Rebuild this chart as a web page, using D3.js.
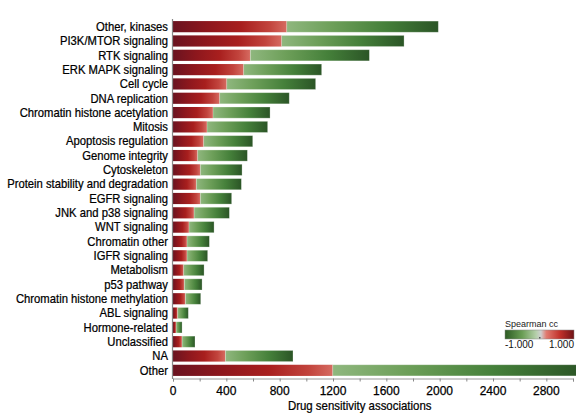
<!DOCTYPE html>
<html>
<head>
<meta charset="utf-8">
<script src="https://cdn.jsdelivr.net/npm/d3@7"></script>
<style>
  html, body { margin: 0; padding: 0; background: #fff; }
  svg { display: block; font-family: "Liberation Sans", Arial, sans-serif; }
  .lbl { fill: #000; stroke: #000; stroke-width: 0.25; }
</style>
</head>
<body>
<svg id="chart" width="576" height="414"></svg>
<script>
// Pathway categories, top to bottom
const categories = [
  "Other, kinases", "PI3K/MTOR signaling", "RTK signaling", "ERK MAPK signaling",
  "Cell cycle", "DNA replication", "Chromatin histone acetylation", "Mitosis",
  "Apoptosis regulation", "Genome integrity", "Cytoskeleton",
  "Protein stability and degradation", "EGFR signaling", "JNK and p38 signaling",
  "WNT signaling", "Chromatin other", "IGFR signaling", "Metabolism",
  "p53 pathway", "Chromatin histone methylation", "ABL signaling",
  "Hormone-related", "Unclassified", "NA", "Other"
];
// Associations with positive Spearman correlation (red part)
const positive = [
  853, 815, 580, 530, 403, 350, 300, 255, 230, 185, 205, 175, 205, 158,
  120, 105, 105, 80, 85, 93, 35, 23, 68, 393, 1198
];
// Associations with negative Spearman correlation (green part)
const negative = [
  1137, 918, 893, 585, 667, 522, 428, 455, 368, 373, 313, 338, 235, 265,
  188, 168, 155, 153, 133, 115, 80, 45, 97, 507, 1860
];
const xTicks = [0, 400, 800, 1200, 1600, 2000, 2400, 2800];
const xMinorTicks = d3.range(0, 3001, 200);
const legendLabels = ["-1.000", "1.000"];

const svg = d3.select("#chart");
const defs = svg.append("defs");

function gradient(id, stops) {
  const g = defs.append("linearGradient").attr("id", id)
    .attr("x1", "0%").attr("x2", "100%").attr("y1", "0%").attr("y2", "0%");
  stops.forEach(([o, c]) => g.append("stop").attr("offset", o).attr("stop-color", c));
}
gradient("redGrad", [[0, "#6a1320"], [0.3, "#8d171d"], [0.6, "#a81f1e"], [0.85, "#c2443d"], [1, "#d66b61"]]);
gradient("greenGrad", [[0, "#8fb77e"], [0.3, "#6d9f59"], [0.65, "#45803a"], [1, "#2b5526"]]);
gradient("legendGrad", [[0, "#2c5a23"], [0.25, "#6a9e55"], [0.45, "#b5cfaa"], [0.52, "#cfcfcf"], [0.6, "#e07a70"], [0.8, "#c0302a"], [1, "#6e1216"]]);

const x = d3.scaleLinear().domain([0, 3000]).range([173, 573]);
const y = d3.scaleBand().domain(categories).range([19.5, 377.5])
  .paddingInner(0.22).paddingOuter(0.11);

const rows = categories.map((c, i) => ({ c, pos: positive[i], neg: negative[i] }));

const bars = svg.append("g");
bars.selectAll("rect.pos").data(rows).join("rect")
  .attr("class", "pos")
  .attr("x", x(0)).attr("y", d => y(d.c))
  .attr("width", d => x(d.pos) - x(0)).attr("height", y.bandwidth())
  .attr("fill", "url(#redGrad)");
bars.selectAll("rect.neg").data(rows).join("rect")
  .attr("class", "neg")
  .attr("x", d => x(d.pos)).attr("y", d => y(d.c))
  .attr("width", d => x(d.pos + d.neg) - x(d.pos)).attr("height", y.bandwidth())
  .attr("fill", "url(#greenGrad)")
  .attr("stroke", "rgba(255,255,255,0.35)").attr("stroke-width", 0.8);

// Category labels (slightly condensed type)
const narrow = 0.88;
svg.append("g").selectAll("text").data(categories).join("text")
  .attr("class", "lbl")
  .attr("transform", d => `translate(168,${y(d) + y.bandwidth() / 2}) scale(${narrow},1)`)
  .attr("text-anchor", "end").attr("dominant-baseline", "central")
  .attr("font-size", 12.8)
  .text(d => d);

// Vertical baseline
svg.append("line")
  .attr("x1", 172.5).attr("x2", 172.5).attr("y1", 19).attr("y2", 379)
  .attr("stroke", "#888").attr("stroke-width", 1.2);

// X axis
const axis = svg.append("g").attr("transform", "translate(0,378.5)");
axis.call(d3.axisBottom(x).tickValues(xMinorTicks).tickSize(3).tickFormat(""))
  .call(g => g.select(".domain").attr("stroke", "#999"))
  .call(g => g.selectAll(".tick line").attr("stroke", "#888"));
axis.append("g").selectAll("text").data(xTicks).join("text")
  .attr("class", "lbl")
  .attr("x", d => x(d)).attr("y", 16)
  .attr("text-anchor", "middle").attr("font-size", 12)
  .text(d => d);

svg.append("text")
  .attr("class", "lbl")
  .attr("transform", `translate(${x(1400)},410) scale(${narrow},1)`)
  .attr("text-anchor", "middle").attr("font-size", 13)
  .text("Drug sensitivity associations");

// Colour legend
const lg = svg.append("g").attr("transform", "translate(505,320)");
lg.append("text").attr("x", 0).attr("y", 7).attr("font-size", 9).attr("fill", "#222")
  .text("Spearman cc");
lg.append("rect").attr("x", 0).attr("y", 10).attr("width", 69).attr("height", 9)
  .attr("fill", "url(#legendGrad)").attr("stroke", "#888").attr("stroke-width", 0.5);
lg.append("rect").attr("x", 34).attr("y", 17).attr("width", 1.5).attr("height", 1.5).attr("fill", "#555");
lg.selectAll("text.lab").data(legendLabels).join("text").attr("class", "lab")
  .attr("x", (d, i) => i === 0 ? 0 : 69).attr("y", 28)
  .attr("text-anchor", (d, i) => i === 0 ? "start" : "end")
  .attr("font-size", 10).attr("fill", "#111")
  .text(d => d);
</script>
</body>
</html>
